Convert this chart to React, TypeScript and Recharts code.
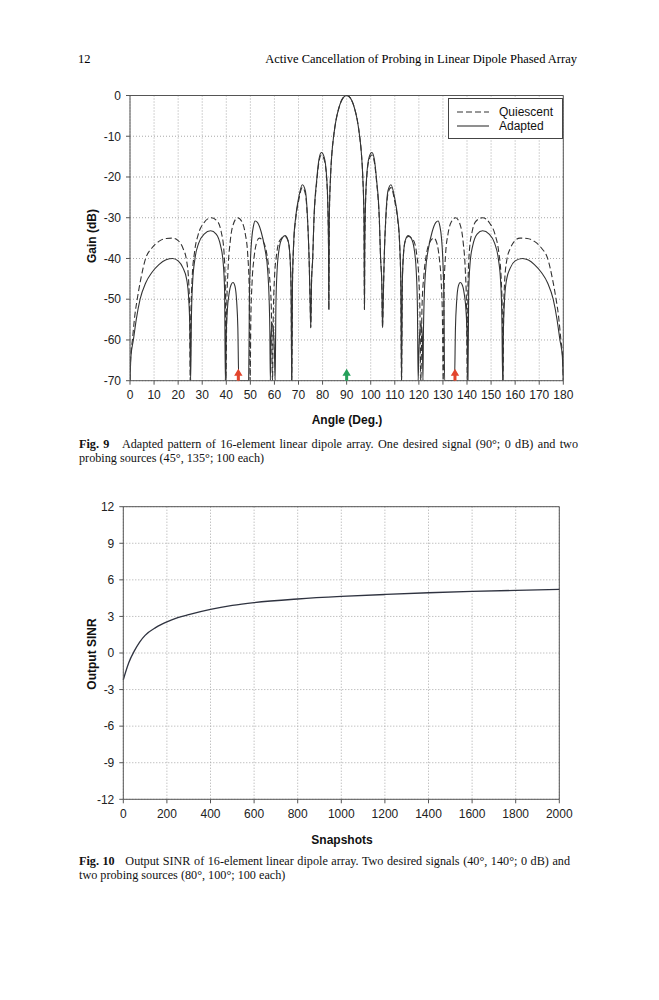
import React from "react";
import {
  LineChart, Line, XAxis, YAxis, CartesianGrid, ReferenceLine, ReferenceDot,
} from "recharts";

// ---- Fig. 9 : array pattern ----
const ANGLE_TICKS = [0, 10, 20, 30, 40, 50, 60, 70, 80, 90, 100, 110, 120, 130, 140, 150, 160, 170, 180];
const GAIN_TICKS = [-70, -60, -50, -40, -30, -20, -10, 0];

// [angle (deg), gain (dB)]
const QUIESCENT: [number, number][] = [
  [0, -70], [0.3, -64], [1, -60], [2, -54], [3, -50], [4.5, -45], [6.5, -40], [9, -37.5], [12, -35.8],
  [15, -35.1], [17.7, -35], [20, -35.6], [22, -37.5], [23.5, -40.5], [24.4, -46], [24.8, -54], [25, -70],
  [25.3, -55], [25.8, -45], [26.8, -38.5], [28.3, -34.2], [30.5, -31.4], [33.7, -30], [36.2, -30.8],
  [37.9, -33.5], [39, -38], [39.6, -47], [39.9, -70],
  [40.2, -52], [40.7, -43], [41.6, -36], [42.8, -31.8], [44.7, -30], [46.5, -31], [47.9, -34], [48.9, -39],
  [49.5, -47], [49.9, -70],
  [50.2, -55], [50.7, -46], [51.5, -40], [52.5, -36.3], [53.7, -35], [55.3, -35.8], [56.8, -38.8],
  [57.9, -44], [58.7, -52], [59.2, -70],
  [59.5, -55], [60, -45], [60.9, -39], [62.2, -35.6], [64.4, -34.6], [65.6, -35.6], [66.4, -39], [66.9, -47], [67.2, -70],
  [67.5, -46], [68, -36.5], [68.8, -30.5], [70, -26], [71.6, -22.6], [72.8, -24], [73.7, -30], [74.4, -40],
  [74.8, -50], [75.1, -57],
  [75.4, -46], [75.9, -40], [76.4, -31], [77.6, -21], [78.5, -16.3], [79.5, -14.6], [80.6, -15.6],
  [81.7, -20.5], [82.3, -30], [82.5, -40], [82.6, -52.5],
  [82.8, -30], [83.3, -20], [83.9, -14], [84.6, -10], [85.6, -6], [86.8, -3], [88.5, -0.6], [90, 0],
  [91.5, -0.6], [93.2, -3], [94.4, -6], [95.4, -10], [96.1, -14], [96.7, -20], [97.2, -30], [97.4, -52.5],
  [97.5, -40], [97.7, -30], [98.3, -20.5], [99.4, -15.6], [100.5, -14.6], [101.5, -16.3], [102.4, -21],
  [103.6, -31], [104.1, -40], [104.6, -46], [104.9, -57],
  [105.2, -50], [105.6, -40], [106.3, -30], [107.2, -24], [108.4, -22.6], [110, -26], [111.2, -30.5],
  [112, -36.5], [112.5, -46], [112.8, -70],
  [113.1, -47], [113.6, -39], [114.4, -35.6], [115.6, -34.6], [117.8, -35.6], [119.1, -39], [120, -45],
  [120.5, -55], [120.8, -70],
  [121.3, -52], [122.1, -44], [123.2, -38.8], [124.7, -35.8], [126.3, -35], [127.5, -36.3], [128.5, -40],
  [129.3, -46], [129.8, -55], [130.1, -70],
  [130.5, -47], [131.1, -39], [132.1, -34], [133.5, -31], [135.3, -30], [137.2, -31.8], [138.4, -36],
  [139.3, -43], [139.8, -52], [140.1, -70],
  [140.4, -47], [141, -38], [142.1, -33.5], [143.8, -30.8], [146.5, -30], [149.5, -31.4], [151.7, -34.2],
  [153.2, -38.5], [154.2, -45], [154.7, -55], [155, -70],
  [155.2, -54], [155.6, -46], [156.5, -40.5], [158, -37.5], [160, -35.6], [162, -35], [165, -35.1],
  [168, -35.8], [171, -37.5], [173.5, -40], [175.5, -45], [177, -50], [178, -54], [179, -60], [179.7, -64], [180, -70],
];

const ADAPTED: [number, number][] = [
  [0, -70], [0.4, -64], [1.4, -60], [2.6, -55], [4.2, -50], [6.5, -46], [9, -43.5], [12, -41.5], [15, -40.3],
  [17.7, -40], [20, -40.6], [22, -42.3], [23.5, -45], [24.4, -50], [24.9, -58], [25.2, -70],
  [25.5, -55], [26, -46], [27, -40], [28.5, -36.3], [30.8, -34], [33.5, -33.2], [35.8, -34], [37.6, -36.8],
  [38.7, -41], [39.3, -48], [39.6, -70],
  [39.9, -60], [40.4, -53], [41.2, -48.5], [42.1, -46.3], [42.8, -45.9], [43.6, -46.8], [44.3, -50.5],
  [44.8, -57], [45.2, -70], [49.3, -70],
  [49.6, -50], [50, -41], [50.6, -35], [51.3, -32], [52, -30.8], [53, -31.2], [54.5, -33.5], [56, -37.5],
  [57.2, -43], [57.8, -50], [58.1, -58], [58.3, -70],
  [58.6, -59], [59.1, -56], [59.6, -58], [60, -63], [60.3, -70],
  [60.6, -52], [61.1, -43], [62, -37.5], [63.2, -35], [64.4, -34.4], [65.6, -35.5], [66.4, -39], [66.9, -47], [67.2, -70],
  [67.5, -46], [68, -36], [68.8, -30], [70, -25.3], [71.6, -21.9], [72.8, -23.3], [73.7, -29.5], [74.4, -40],
  [74.8, -50], [75.1, -57],
  [75.4, -46], [75.9, -40], [76.4, -30.5], [77.6, -20.5], [78.5, -15.7], [79.5, -14], [80.6, -15],
  [81.7, -20], [82.3, -30], [82.5, -40], [82.6, -52.5],
  [82.8, -30], [83.3, -20], [83.9, -14], [84.6, -10], [85.6, -6], [86.8, -3], [88.5, -0.6], [90, 0],
  [91.5, -0.6], [93.2, -3], [94.4, -6], [95.4, -10], [96.1, -14], [96.7, -20], [97.2, -30], [97.4, -52.5],
  [97.5, -40], [97.7, -30], [98.3, -20], [99.4, -15], [100.5, -14], [101.5, -15.7], [102.4, -20.5],
  [103.6, -30.5], [104.1, -40], [104.6, -46], [104.9, -57],
  [105.2, -50], [105.6, -40], [106.3, -29.5], [107.2, -23.3], [108.4, -21.9], [110, -25.3], [111.2, -30],
  [112, -36], [112.5, -46], [112.8, -70],
  [113.1, -47], [113.6, -39], [114.4, -35.5], [115.6, -34.4], [116.8, -35], [118, -37.5], [118.9, -43],
  [119.4, -52], [119.7, -70],
  [120, -63], [120.4, -58], [120.9, -56], [121.4, -59], [121.7, -70],
  [121.9, -58], [122.2, -50], [122.8, -43], [124, -37.5], [125.5, -33.5], [127, -31.2], [128, -30.8],
  [128.7, -32], [129.4, -35], [130, -41], [130.4, -50], [130.7, -70], [134.8, -70],
  [135.2, -57], [135.7, -50.5], [136.4, -46.8], [137.2, -45.9], [137.9, -46.3], [138.8, -48.5],
  [139.6, -53], [140.1, -60], [140.4, -70],
  [140.7, -48], [141.3, -41], [142.4, -36.8], [144.2, -34], [146.5, -33.2], [149.2, -34], [151.5, -36.3],
  [153, -40], [154, -46], [154.5, -55], [154.8, -70],
  [155.1, -58], [155.6, -50], [156.5, -45], [158, -42.3], [160, -40.6], [163, -40], [165.5, -40.4],
  [168, -41.5], [171, -43.5], [173.5, -46], [175.8, -50], [177.4, -55], [178.6, -60], [179.6, -64], [180, -70],
];

const PROBE_ANGLES = [45, 135];
const DESIRED_ANGLES = [90];

// ---- Fig. 10 : output SINR ----
const SNAPSHOT_TICKS = [0, 200, 400, 600, 800, 1000, 1200, 1400, 1600, 1800, 2000];
const SINR_TICKS = [-12, -9, -6, -3, 0, 3, 6, 9, 12];
const SNAPSHOTS = [0, 10, 25, 50, 75, 100, 150, 200, 250, 300, 400, 500, 600, 800, 1000, 1200, 1400, 1600, 1800, 2000];
const SINR = [-2.2, -1.6, -0.8, 0.15, 0.9, 1.45, 2.1, 2.55, 2.9, 3.15, 3.58, 3.9, 4.13, 4.43, 4.64, 4.8, 4.94, 5.05, 5.14, 5.22];

const quiescentData = QUIESCENT.map(([x, y]) => ({ x, y }));
const adaptedData = ADAPTED.map(([x, y]) => ({ x, y }));
const sinrData = SNAPSHOTS.map((x, i) => ({ x, y: SINR[i] }));

const SANS = "'Liberation Sans', Arial, sans-serif";
const SERIF = "'Liberation Serif', 'Times New Roman', serif";
const INK = "#333";
const GRID = "#a8a8a8";
const tick = { fontSize: 12, fill: "#222", fontFamily: SANS };

function Arrow({ cx, cy, fill }: { cx: number; cy: number; fill: string }) {
  const d = `M${cx},${cy - 12} L${cx + 4.2},${cy - 5} L${cx + 1.5},${cy - 5} L${cx + 1.5},${cy} L${cx - 1.5},${cy} L${cx - 1.5},${cy - 5} L${cx - 4.2},${cy - 5} Z`;
  return <path d={d} fill={fill} />;
}

function Text({ left, top, children, style }: any) {
  return (
    <div style={{ position: "absolute", left, top, whiteSpace: "nowrap", ...style }}>{children}</div>
  );
}

function AxisTitle({ x, y, rotate, children }: any) {
  return (
    <div
      style={{
        position: "absolute", left: x, top: y, whiteSpace: "nowrap",
        transform: `translate(-50%, -50%)${rotate ? " rotate(-90deg)" : ""}`,
        fontFamily: SANS, fontWeight: "bold", fontSize: 12, color: "#111",
      }}
    >
      {children}
    </div>
  );
}

function Caption({ top, num, line1, line2, width }: any) {
  const base = { fontFamily: SERIF, fontSize: 12.2, lineHeight: "14px", color: "#111" };
  return (
    <>
      <div style={{ ...base, position: "absolute", left: 79, top, width, textAlign: "justify", textAlignLast: "justify", whiteSpace: "nowrap" } as any}>
        <b>{num}</b>&nbsp;&nbsp; {line1}
      </div>
      <div style={{ ...base, position: "absolute", left: 79, top: top + 13.5, whiteSpace: "nowrap" }}>{line2}</div>
    </>
  );
}

export default function App() {
  return (
    <div style={{ position: "absolute", left: 0, top: 0, width: 659, height: 1000, background: "#fff" }}>
      {/* running head */}
      <Text left={78} top={52} style={{ fontFamily: SERIF, fontSize: 12.5, lineHeight: "14px" }}>12</Text>
      <Text left={255} top={52} style={{ fontFamily: SERIF, fontSize: 12.5, lineHeight: "14px", width: 322, textAlign: "right" }}>
        Active Cancellation of Probing in Linear Dipole Phased Array
      </Text>

      {/* Fig. 9 */}
      <div style={{ position: "absolute", left: 0, top: 0 }}>
        <LineChart width={659} height={430} margin={{ top: 95.5, right: 95.7, bottom: 19.3, left: 90 }}>
          <CartesianGrid stroke={GRID} strokeDasharray="1 2" />
          <XAxis
            dataKey="x" type="number" domain={[0, 180]} ticks={ANGLE_TICKS} interval={0}
            allowDataOverflow tick={tick} tickSize={4} tickMargin={6} stroke="#555" height={30}
          />
          <YAxis
            dataKey="y" type="number" domain={[-70, 0]} ticks={GAIN_TICKS} interval={0}
            allowDataOverflow tick={tick} tickSize={4} tickMargin={5} stroke="#555" width={40}
          />
          <ReferenceLine y={0} stroke="#555" />
          <ReferenceLine x={180} stroke="#555" />
          <Line
            data={quiescentData} dataKey="y" type="monotone" stroke={INK} strokeWidth={1.1}
            strokeDasharray="6 3" dot={false} isAnimationActive={false}
          />
          <Line
            data={adaptedData} dataKey="y" type="monotone" stroke={INK} strokeWidth={1.1}
            dot={false} isAnimationActive={false}
          />
          {PROBE_ANGLES.map((a) => (
            <ReferenceDot key={a} x={a} y={-70} r={0} shape={(p: any) => <Arrow cx={p.cx} cy={p.cy} fill="#e2452d" />} />
          ))}
          {DESIRED_ANGLES.map((a) => (
            <ReferenceDot key={a} x={a} y={-70} r={0} shape={(p: any) => <Arrow cx={p.cx} cy={p.cy} fill="#25a05a" />} />
          ))}
        </LineChart>
      </div>

      {/* legend */}
      <div
        style={{
          position: "absolute", left: 448, top: 98, width: 115, height: 41, boxSizing: "border-box",
          border: "1px solid #444", background: "#fff", fontFamily: SANS, fontSize: 12, color: "#111",
        }}
      >
        <svg width={40} height={41} style={{ position: "absolute", left: 6, top: 0 }}>
          <line x1={2} x2={34} y1={13} y2={13} stroke={INK} strokeWidth={1.1} strokeDasharray="6 3" />
          <line x1={2} x2={34} y1={27} y2={27} stroke={INK} strokeWidth={1.1} />
        </svg>
        <div style={{ position: "absolute", left: 50, top: 6, lineHeight: "14px" }}>Quiescent</div>
        <div style={{ position: "absolute", left: 50, top: 20, lineHeight: "14px" }}>Adapted</div>
      </div>

      <AxisTitle x={92} y={236} rotate>Gain (dB)</AxisTitle>
      <AxisTitle x={347} y={420}>Angle (Deg.)</AxisTitle>

      <Caption
        top={437}
        width={499}
        num="Fig. 9"
        line1="Adapted pattern of 16-element linear dipole array. One desired signal (90°; 0 dB) and two"
        line2="probing sources (45°, 135°; 100 each)"
      />

      {/* Fig. 10 */}
      <div style={{ position: "absolute", left: 0, top: 460 }}>
        <LineChart width={659} height={380} margin={{ top: 46.7, right: 99.7, bottom: 10.7, left: 83.3 }}>
          <CartesianGrid stroke={GRID} strokeDasharray="1 2" />
          <XAxis
            dataKey="x" type="number" domain={[0, 2000]} ticks={SNAPSHOT_TICKS} interval={0}
            tick={tick} tickSize={4} tickMargin={6} stroke="#555" height={30}
          />
          <YAxis
            type="number" domain={[-12, 12]} ticks={SINR_TICKS} interval={0}
            tick={tick} tickSize={4} tickMargin={5} stroke="#555" width={40}
          />
          <ReferenceLine y={12} stroke="#555" />
          <ReferenceLine x={2000} stroke="#555" />
          <Line
            data={sinrData} dataKey="y" type="monotone" stroke="#2f3340" strokeWidth={1.3}
            dot={false} isAnimationActive={false}
          />
        </LineChart>
      </div>

      <AxisTitle x={92} y={654} rotate>Output SINR</AxisTitle>
      <AxisTitle x={342} y={840}>Snapshots</AxisTitle>

      <Caption
        top={854}
        width={491}
        num="Fig. 10"
        line1="Output SINR of 16-element linear dipole array. Two desired signals (40°, 140°; 0 dB) and"
        line2="two probing sources (80°, 100°; 100 each)"
      />
    </div>
  );
}
